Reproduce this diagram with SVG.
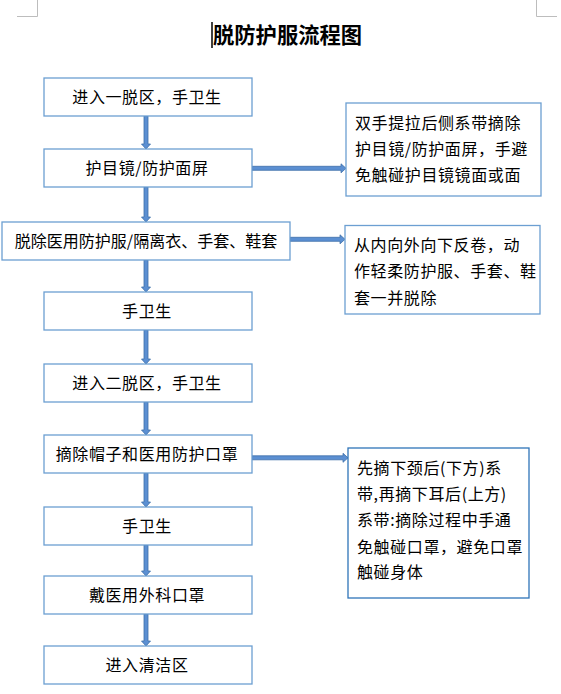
<svg xmlns="http://www.w3.org/2000/svg" width="561" height="694" viewBox="0 0 561 694">
<style>
.bg{fill:#ffffff}
.box{fill:#ffffff;stroke:#6c9fd2;stroke-width:1.3}
.box2{fill:#ffffff;stroke:#2f74b8;stroke-width:1.3}
.t{font-family:"Noto Sans CJK SC","Noto Sans",sans-serif;font-size:16px;fill:#000000}
.ls{letter-spacing:0.6px}
.c{text-anchor:middle}
.title{font-family:"Noto Sans CJK SC","Noto Sans",sans-serif;font-size:21.3px;font-weight:bold;fill:#000000}
.arr{fill:#5b8fd2;stroke:#3d6ea8;stroke-width:0.8;stroke-linejoin:miter}
.mark{stroke:#bdbdbd;stroke-width:1;fill:none}
</style>
<rect class="bg" x="0" y="0" width="561" height="694"/>
<g id="page-marks">
<path class="mark" d="M37.5,0 V16.5 H17"/>
<path class="mark" d="M536.5,0 V16.5 H557"/>
</g>
<g id="title">
<line x1="212" y1="22" x2="212" y2="48" stroke="#000" stroke-width="1.5"/>
<text class="title" x="213" y="43">脱防护服流程图</text>
</g>
<g id="connectors">
<path class="arr" d="M144,116 H148 V144 H150.5 L146,149 L141.5,144 H144 Z"/>
<path class="arr" d="M144,187 H148 V217 H150.5 L146,222 L141.5,217 H144 Z"/>
<path class="arr" d="M144,260 H148 V287 H150.5 L146,292 L141.5,287 H144 Z"/>
<path class="arr" d="M144,330 H148 V359 H150.5 L146,364 L141.5,359 H144 Z"/>
<path class="arr" d="M144,402 H148 V430 H150.5 L146,435 L141.5,430 H144 Z"/>
<path class="arr" d="M144,473 H148 V502 H150.5 L146,507 L141.5,502 H144 Z"/>
<path class="arr" d="M144,545 H148 V571 H150.5 L146,576 L141.5,571 H144 Z"/>
<path class="arr" d="M144,614 H148 V641 H150.5 L146,646 L141.5,641 H144 Z"/>
<path class="arr" d="M252,166.3 H341 V163.8 L346,168.3 L341,172.8 V170.3 H252 Z"/>
<path class="arr" d="M290,237.3 H340 V234.8 L345,239.3 L340,243.8 V241.3 H290 Z"/>
<path class="arr" d="M252,455.8 H343 V453.3 L348,457.8 L343,462.3 V459.8 H252 Z"/>
</g>
<g id="n1"><rect class="box" x="44" y="78" width="208" height="38"/><text class="t c ls" x="147" y="103">进入一脱区，手卫生</text></g>
<g id="n2"><rect class="box" x="44" y="149" width="208" height="38"/><text class="t c ls" x="147" y="174">护目镜/防护面屏</text></g>
<g id="n3"><rect class="box" x="2" y="222" width="288" height="38"/><text class="t c" x="146" y="247">脱除医用防护服/隔离衣、手套、鞋套</text></g>
<g id="n4"><rect class="box" x="44" y="292" width="208" height="38"/><text class="t c ls" x="147" y="317">手卫生</text></g>
<g id="n5"><rect class="box" x="44" y="364" width="208" height="38"/><text class="t c ls" x="147" y="389">进入二脱区，手卫生</text></g>
<g id="n6"><rect class="box" x="44" y="435" width="208" height="38"/><text class="t c ls" x="147" y="460">摘除帽子和医用防护口罩</text></g>
<g id="n7"><rect class="box" x="44" y="507" width="208" height="38"/><text class="t c ls" x="147" y="532">手卫生</text></g>
<g id="n8"><rect class="box" x="44" y="576" width="208" height="38"/><text class="t c ls" x="147" y="601">戴医用外科口罩</text></g>
<g id="n9"><rect class="box" x="44" y="646" width="208" height="38"/><text class="t c ls" x="147" y="671">进入清洁区</text></g>
<g id="r1"><rect class="box" x="346" y="103" width="195" height="93"/>
<text class="t ls" x="355" y="129">双手提拉后侧系带摘除</text>
<text class="t ls" x="355" y="155">护目镜/防护面屏，手避</text>
<text class="t ls" x="355" y="181">免触碰护目镜镜面或面</text></g>
<g id="r2"><rect class="box" x="345" y="225.5" width="195" height="88.5"/>
<text class="t ls" x="354" y="251">从内向外向下反卷，动</text>
<text class="t ls" x="354" y="277">作轻柔防护服、手套、鞋</text>
<text class="t ls" x="354" y="304">套一并脱除</text></g>
<g id="r3"><rect class="box2" x="348" y="448" width="181" height="150"/>
<text class="t ls" x="357" y="474">先摘下颈后(下方)系</text>
<text class="t ls" x="357" y="500">带,再摘下耳后(上方)</text>
<text class="t ls" x="357" y="526">系带:摘除过程中手通</text>
<text class="t ls" x="357" y="553">免触碰口罩，避免口罩</text>
<text class="t ls" x="357" y="578">触碰身体</text></g>
</svg>
